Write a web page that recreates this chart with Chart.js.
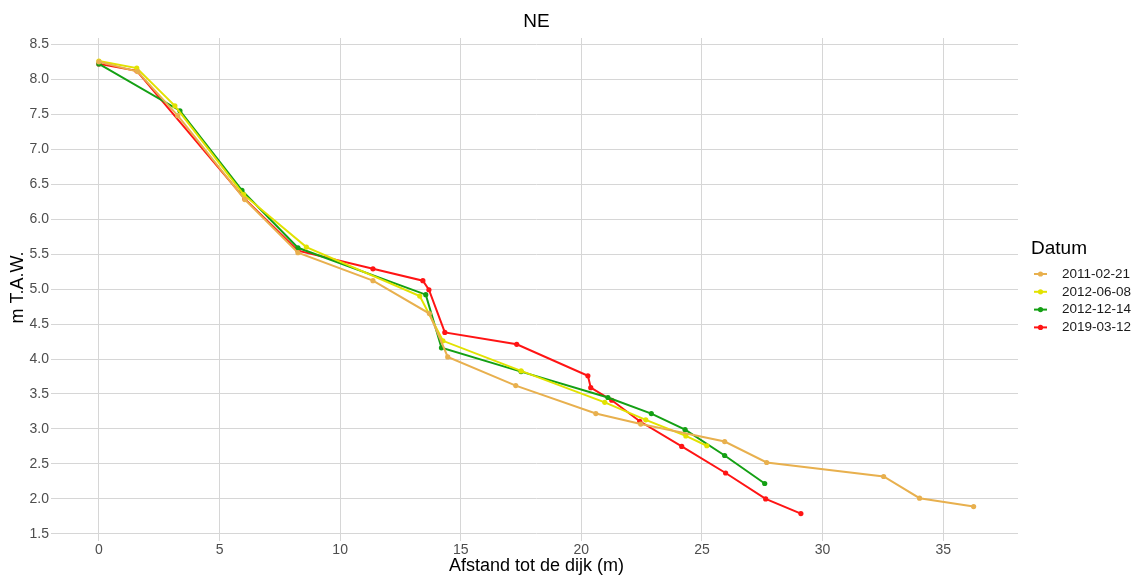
<!DOCTYPE html>
<html>
<head>
<meta charset="utf-8">
<script src="https://cdn.jsdelivr.net/npm/chart.js@4.4.1/dist/chart.umd.min.js"></script>
<style>
  html, body { margin: 0; padding: 0; background: #fff; }
  #wrap { width: 1137px; height: 577px; }
</style>
</head>
<body>
<div id="wrap"><canvas id="chart" width="1137" height="577"></canvas></div>
<script>
// data
const seriesNames = ['2011-02-21', '2012-06-08', '2012-12-14', '2019-03-12']
const seriesColors = ['#E8B04E', '#E2E200', '#14A014', '#FF1414']

const x2011 = [0, 1.6, 3.27, 6.05, 8.25, 11.36, 13.7, 14.46, 17.28, 20.6, 22.46, 25.94, 27.68, 32.53, 34.02, 36.26]
const y2011 = [8.25, 8.11, 7.48, 6.28, 5.52, 5.12, 4.65, 4.03, 3.62, 3.22, 3.07, 2.82, 2.52, 2.32, 2.01, 1.89]

const x2012a = [0, 1.57, 3.15, 6.0, 8.6, 13.3, 14.26, 17.5, 20.97, 22.67, 24.33, 25.2]
const y2012a = [8.26, 8.16, 7.62, 6.35, 5.6, 4.9, 4.26, 3.83, 3.38, 3.13, 2.9, 2.76]

const x2012b = [0, 3.36, 5.93, 8.25, 13.55, 14.2, 17.5, 21.1, 22.9, 24.3, 25.94, 27.6]
const y2012b = [8.22, 7.55, 6.41, 5.59, 4.92, 4.16, 3.82, 3.45, 3.22, 2.99, 2.62, 2.22]

const x2019 = [0, 1.57, 6.05, 8.25, 11.36, 13.43, 13.68, 14.34, 17.32, 20.27, 20.39, 21.26, 22.42, 24.16, 25.98, 27.64, 29.1]
const y2019 = [8.22, 8.12, 6.29, 5.55, 5.29, 5.12, 4.99, 4.38, 4.21, 3.76, 3.59, 3.41, 3.11, 2.75, 2.37, 2.0, 1.79]

const xTicks = [0, 5, 10, 15, 20, 25, 30, 35]
const yTicks = [1.5, 2.0, 2.5, 3.0, 3.5, 4.0, 4.5, 5.0, 5.5, 6.0, 6.5, 7.0, 7.5, 8.0, 8.5]

const allX = [x2011, x2012a, x2012b, x2019]
const allY = [y2011, y2012a, y2012b, y2019]

const font = '"Liberation Sans", Arial, sans-serif'
const gridColor = '#d6d6d6'
const tickColor = '#4d4d4d'

let datasets = []
for (let i = 0; i < seriesNames.length; i++) {
    let pts = allX[i].map((x, j) => ({ x: x, y: allY[i][j] }))
    datasets.push({
        label: seriesNames[i],
        data: pts,
        borderColor: seriesColors[i],
        backgroundColor: seriesColors[i],
        borderWidth: 2,
        pointRadius: 2.6,
        pointHoverRadius: 2.6,
        pointBorderWidth: 0,
        tension: 0
    })
}

// title + legend drawn next to the panel, like the ggplot output
const decorations = {
    id: 'decorations',
    afterDraw(chart) {
        const ctx = chart.ctx
        const area = chart.chartArea
        ctx.save()
        ctx.fillStyle = '#000'
        ctx.font = '19px ' + font
        ctx.textAlign = 'center'
        ctx.textBaseline = 'middle'
        ctx.fillText('NE', (area.left + area.right) / 2, 22)

        ctx.textAlign = 'left'
        ctx.font = '19px ' + font
        ctx.fillText('Datum', 1031, 249)
        ctx.font = '13.5px ' + font
        for (let i = 0; i < seriesNames.length; i++) {
            let y = 274 + i * 17.8
            ctx.strokeStyle = seriesColors[i]
            ctx.fillStyle = seriesColors[i]
            ctx.lineWidth = 2
            ctx.beginPath()
            ctx.moveTo(1034, y)
            ctx.lineTo(1047, y)
            ctx.stroke()
            ctx.beginPath()
            ctx.arc(1040.5, y, 2.6, 0, Math.PI * 2)
            ctx.fill()
            ctx.fillStyle = '#1a1a1a'
            ctx.fillText(seriesNames[i], 1062, y)
        }
        ctx.restore()
    }
}

new Chart(document.getElementById('chart'), {
    type: 'line',
    data: { datasets: datasets },
    plugins: [decorations],
    options: {
        responsive: false,
        animation: false,
        layout: { padding: { top: 38, right: 119, left: 0, bottom: 0 } },
        plugins: {
            legend: { display: false },
            title: { display: false },
            tooltip: { enabled: false }
        },
        scales: {
            x: {
                type: 'linear',
                min: -1.82,
                max: 38.1,
                afterBuildTicks: (axis) => { axis.ticks = xTicks.map(v => ({ value: v })) },
                afterFit: (axis) => { axis.height = 40 },
                border: { display: false },
                grid: { color: gridColor, lineWidth: 1, tickLength: 4, drawTicks: true },
                ticks: { color: tickColor, font: { family: font, size: 14 }, padding: 1, maxRotation: 0,
                    callback: (v) => v },
                title: { display: true, text: 'Afstand tot de dijk (m)', color: '#000',
                    font: { family: font, size: 18 }, padding: { top: 0, bottom: 0 } }
            },
            y: {
                type: 'linear',
                min: 1.455,
                max: 8.59,
                afterBuildTicks: (axis) => { axis.ticks = yTicks.map(v => ({ value: v })) },
                afterFit: (axis) => { axis.width = 55 },
                border: { display: false },
                grid: { color: gridColor, lineWidth: 1, tickLength: 4, drawTicks: true },
                ticks: { color: tickColor, font: { family: font, size: 14 }, padding: 2,
                    callback: (v) => v.toFixed(1) },
                title: { display: true, text: 'm T.A.W.', color: '#000',
                    font: { family: font, size: 18 }, padding: { top: 7, bottom: 0 } }
            }
        }
    }
})
</script>
</body>
</html>
